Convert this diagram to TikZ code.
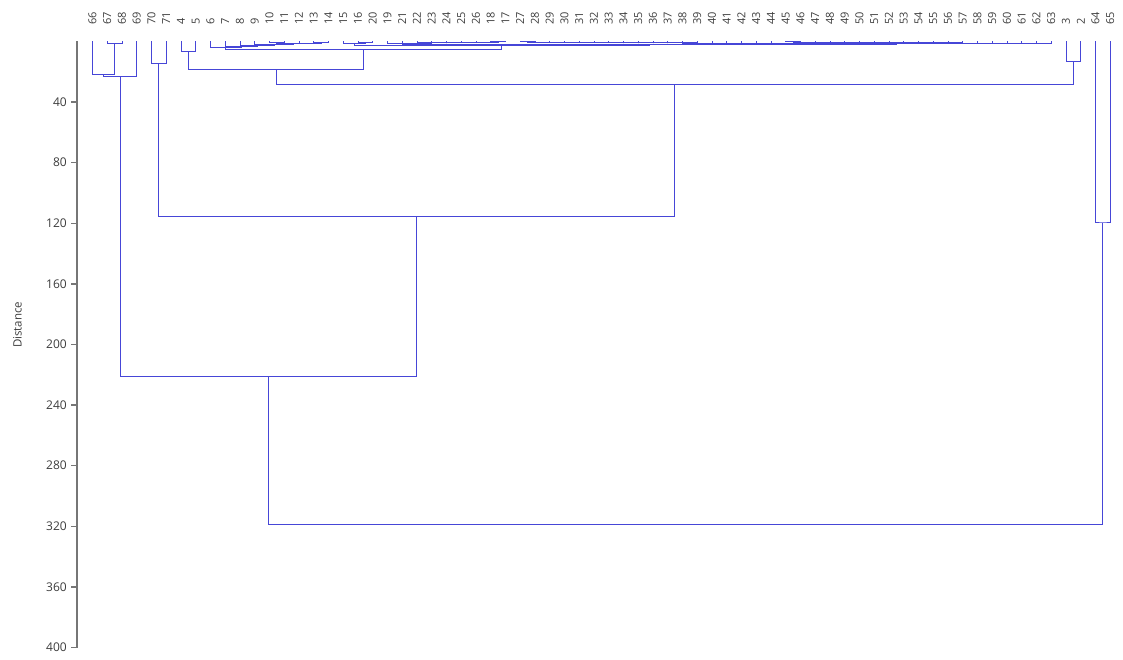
\documentclass[tikz,border=0pt]{standalone}
\usepackage{fontspec}
\setmainfont{Open Sans}
\usetikzlibrary{calc}
\definecolor{treeblue}{RGB}{70,70,215}
\definecolor{axisgray}{RGB}{118,118,118}
\definecolor{labgray}{RGB}{60,60,60}
\newcommand\clmerge[4]{%
  \path let \p1=($(#2)!.5!(#3)$), \p2=(0,#4) in coordinate (#1) at (\x1,\y2);
  \draw[link] (#2) |- (#1) -| (#3);}

\begin{document}
\begin{tikzpicture}[x=1pt,y=-1.515pt,
link/.style={draw=treeblue,line width=1pt},
axisline/.style={draw=axisgray,line width=1.3pt},
leaflab/.style={font=\fontsize{11}{11}\selectfont,text=labgray,rotate=90,anchor=west,inner sep=0pt},
ticklab/.style={font=\fontsize{12}{12}\selectfont,text=labgray,anchor=east,inner sep=0pt}]
\useasboundingbox (0,-27.39) rectangle (1123,408.25);
\coordinate (axtop) at (77,0);
\coordinate (axbot) at (77,400);
\draw[axisline] (axtop) -- (axbot);
\foreach \t in {40,80,...,400} {
  \draw[axisline] (71,\t) -- (77,\t);
  \node[ticklab] (tick\t) at (67,\t) {\t};
}
\node[font=\fontsize{11.5}{12}\selectfont,text=labgray,rotate=90] (ytitle) at (17.5,187) {Distance};
\foreach \lab [count=\i from 0] in {66,67,68,69,70,71,4,5,6,7,...,16,20,19,21,22,...,26,18,17,27,28,...,63,3,2,64,65} {
  \coordinate (leaf\i) at ({92.5+14.75*\i},0);
  \node[leaflab] (lab\i) at ({92.5+14.75*\i},-10.9) {\lab};
}
\clmerge{a1}{leaf1}{leaf2}{1.2}
\clmerge{a2}{leaf0}{a1}{21.5}
\clmerge{a3}{a2}{leaf3}{23}
\clmerge{b1}{leaf4}{leaf5}{14.6}
\clmerge{c1}{leaf15}{leaf16}{0.5}
\clmerge{c2}{leaf14}{c1}{1.0}
\clmerge{c3}{leaf12}{leaf13}{0.6}
\clmerge{c4}{c3}{c2}{1.5}
\clmerge{c5}{leaf11}{c4}{2.0}
\clmerge{c6}{leaf10}{c5}{2.5}
\clmerge{c7}{leaf9}{c6}{3.0}
\clmerge{c8}{leaf8}{c7}{3.8}
\clmerge{d1}{leaf18}{leaf19}{0.6}
\clmerge{d2}{leaf17}{d1}{1.2}
\coordinate (e28) at (leaf28);
\foreach \k [evaluate=\k as \nx using int(\k+1), evaluate=\k as \hh using 0.3+0.12*(27-\k)] in {27,26,...,20}
  {\clmerge{e\k}{leaf\k}{e\nx}{\hh}}
\coordinate (f29) at (leaf29);
\foreach \k [evaluate=\k as \pv using int(\k-1), evaluate=\k as \hh using 0.3+0.06*(\k-30)] in {30,...,46}
  {\clmerge{f\k}{f\pv}{leaf\k}{\hh}}
\coordinate (g47) at (leaf47);
\foreach \k [evaluate=\k as \pv using int(\k-1), evaluate=\k as \hh using 0.3+0.06*(\k-48)] in {48,...,65}
  {\clmerge{g\k}{g\pv}{leaf\k}{\hh}}
\clmerge{froot}{f46}{g65}{1.6}
\clmerge{d3}{e20}{froot}{1.9}
\clmerge{droot}{d2}{d3}{2.4}
\clmerge{cd}{c8}{droot}{5.2}
\clmerge{h1}{leaf6}{leaf7}{6.7}
\clmerge{h2}{h1}{cd}{18.6}
\clmerge{k1}{leaf66}{leaf67}{13.5}
\clmerge{h3}{h2}{k1}{28.7}
\clmerge{h4}{b1}{h3}{115.8}
\clmerge{h5}{a3}{h4}{221.3}
\clmerge{m1}{leaf68}{leaf69}{119.8}
\clmerge{root}{h5}{m1}{318.5}
\end{tikzpicture}
\end{document}
